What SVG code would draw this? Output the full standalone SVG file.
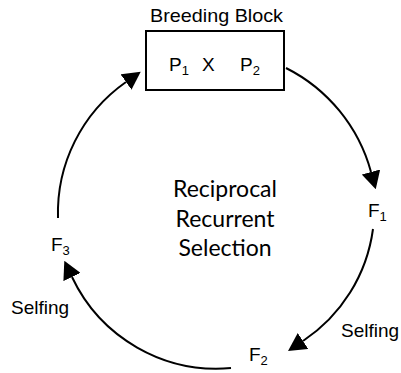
<svg xmlns="http://www.w3.org/2000/svg" width="401" height="373" viewBox="0 0 401 373">
<style>
.t{font-family:"Liberation Sans",Arial,sans-serif;font-size:19px;fill:#000}
.s{font-size:13px}
.c{font-family:Lato,"Open Sans",sans-serif;font-size:23px;fill:#000;text-anchor:middle}
.arc{fill:none;stroke:#000;stroke-width:2}
</style>
<defs>
<marker id="ah" viewBox="0 0 18 19" refX="0" refY="9.5" markerWidth="18" markerHeight="19" markerUnits="userSpaceOnUse" orient="auto">
<path d="M0,0 L18,9.5 L0,19 Z" fill="#000"/>
</marker>
</defs>
<rect width="401" height="373" fill="#fff"/>
<g id="breeding-block">
<text class="t" x="150" y="22" font-size="17" textLength="133" lengthAdjust="spacingAndGlyphs">Breeding Block</text>
<rect x="146" y="31" width="138" height="59" fill="#fff" stroke="#000" stroke-width="2"/>
<text class="t" x="169" y="71">P<tspan class="s" dy="4">1</tspan></text>
<text class="t" x="202" y="71">X</text>
<text class="t" x="240" y="71">P<tspan class="s" dy="4">2</tspan></text>
</g>
<g id="F1"><text class="t" x="368" y="217">F<tspan class="s" dy="4">1</tspan></text></g>
<g id="F2"><text class="t" x="249" y="361">F<tspan class="s" dy="4">2</tspan></text></g>
<g id="F3"><text class="t" x="51" y="251">F<tspan class="s" dy="4">3</tspan></text></g>
<g id="center-label">
<text class="c" x="225" y="197">Reciprocal</text>
<text class="c" x="225" y="227">Recurrent</text>
<text class="c" x="225" y="256">Selection</text>
</g>
<g id="connectors">
<path class="arc" d="M286,68 A165,165 0 0 1 371,172" marker-end="url(#ah)"/>
<path class="arc" d="M373,229 A160,160 0 0 1 303,341" marker-end="url(#ah)"/>
<path class="arc" d="M231,368 A160,160 0 0 1 72,277" marker-end="url(#ah)"/>
<path class="arc" d="M58,218 A160,160 0 0 1 126,82" marker-end="url(#ah)"/>
<text class="t" x="11" y="314">Selfing</text>
<text class="t" x="341" y="337">Selfing</text>
</g>
</svg>
